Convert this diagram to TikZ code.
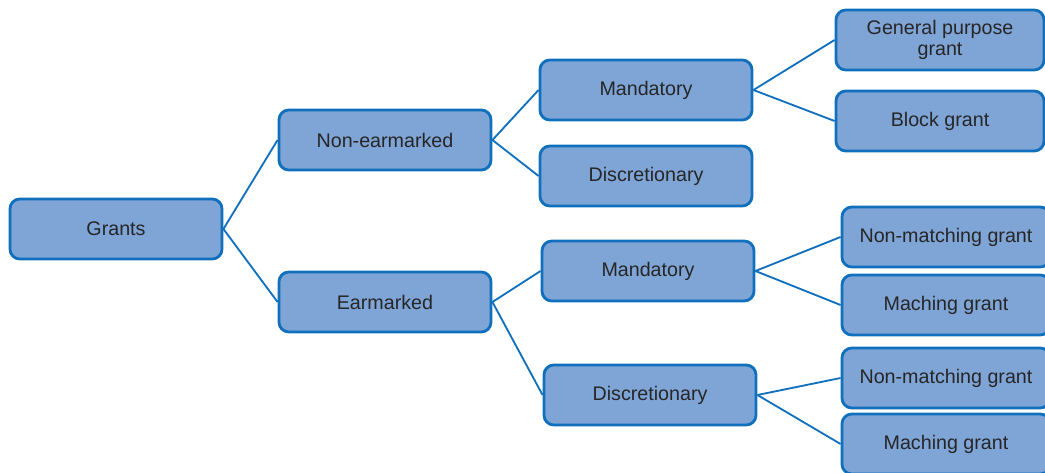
\documentclass[tikz,border=0pt]{standalone}
\usepackage{fontspec}
\setmainfont{Liberation Sans}
\usepackage{xcolor}
\usetikzlibrary{positioning}

\definecolor{boxfill}{RGB}{127,164,214}
\definecolor{boxline}{RGB}{16,112,190}
\definecolor{boxtext}{RGB}{38,38,38}

\begin{document}
\begin{tikzpicture}[
    x=0.025cm, y=-0.025cm,
    every node/.style={font=\fontsize{14}{14.5}\selectfont, text=boxtext},
    grantbox/.style={rectangle, draw=boxline, line width=2pt, fill=boxfill, rounded corners=7pt, minimum width=5.3cm, minimum height=1.5cm, align=center, inner sep=2pt},
    leafbox/.style={grantbox, minimum width=5.2cm},
    link/.style={draw=boxline, line width=1.3pt}
]

\useasboundingbox (0,0) rectangle (1045,473);

% Root and first split
\node[grantbox] (grants) at (116,229) {Grants};
\node[grantbox] (nonear) at (385,140) {Non-earmarked};
\node[grantbox] (ear) at (385,302) {Earmarked};

% Second level
\node[grantbox] (nemand) at (646,90) {Mandatory};
\node[grantbox] (nedisc) at (646,176) {Discretionary};
\node[grantbox] (emand) at (648,271) {Mandatory};
\node[grantbox] (edisc) at (650,395) {Discretionary};

% Leaves
\node[leafbox] (general) at (940,40) {General purpose\\grant};
\node[leafbox] (block) at (940,121) {Block grant};
\node[leafbox] (mnonmatch) at (946,237) {Non-matching grant};
\node[leafbox] (mmatch) at (946,305) {Maching grant};
\node[leafbox] (dnonmatch) at (946,378) {Non-matching grant};
\node[leafbox] (dmatch) at (946,444) {Maching grant};

% Connectors
\draw[link] (grants.east) -- (nonear.west);
\draw[link] (grants.east) -- (ear.west);
\draw[link] (nonear.east) -- (nemand.west);
\draw[link] (nonear.east) -- (nedisc.west);
\draw[link] (ear.east) -- (emand.west);
\draw[link] (ear.east) -- (edisc.west);
\draw[link] (nemand.east) -- (general.west);
\draw[link] (nemand.east) -- (block.west);
\draw[link] (emand.east) -- (mnonmatch.west);
\draw[link] (emand.east) -- (mmatch.west);
\draw[link] (edisc.east) -- (dnonmatch.west);
\draw[link] (edisc.east) -- (dmatch.west);

\end{tikzpicture}
\end{document}
